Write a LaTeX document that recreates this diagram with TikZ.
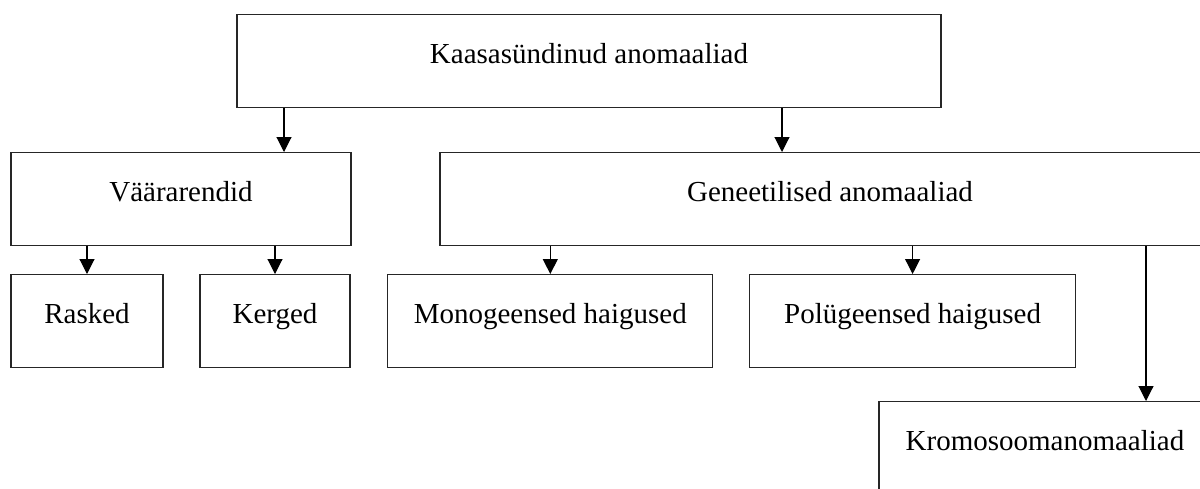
\documentclass[tikz,border=0pt]{standalone}
\usepackage{fontspec}
\setmainfont{Liberation Serif}
\usetikzlibrary{arrows.meta,positioning}

\begin{document}
\begin{tikzpicture}[
    x=1pt, y=-1pt,
    cat_box/.style={rectangle, draw=black!85, line width=1.3pt, fill=white, inner sep=0pt, text height=49pt, text depth=44pt, font=\fontsize{29}{34}\selectfont, anchor=north},
    arrow/.style={-{Triangle[length=15pt,width=15pt]}, line width=1.1pt, black}
]
\useasboundingbox (0,0) rectangle (1200,488);
\clip (0,0) rectangle (1200,488);

% Top level
\node[cat_box, minimum width=704pt] (kaasa) at (589,14) {Kaasasündinud anomaaliad};

% Second level
\node[cat_box, minimum width=340pt] (vaar) at (181,152) {Väärarendid};
\node[cat_box, minimum width=780pt] (gen) at (830,152) {Geneetilised anomaaliad};

% Third level
\node[cat_box, minimum width=152pt] (rasked) at (87,274) {Rasked};
\node[cat_box, minimum width=150pt, right=35.7pt of rasked] (kerged) {Kerged};
\node[cat_box, minimum width=325pt, right=36.5pt of kerged] (mono) {Monogeensed haigused};
\node[cat_box, minimum width=326pt, right=35.5pt of mono] (poly) {Polügeensed haigused};
\node[cat_box, minimum width=332pt] (kromo) at (1045,401) {Kromosoomanomaaliad};

% Connections
\draw[arrow] (kaasa.south -| 284,0) -- (vaar.north -| 284,0);
\draw[arrow] (kaasa.south -| 782,0) -- (gen.north -| 782,0);
\draw[arrow] (vaar.south -| rasked.north) -- (rasked.north);
\draw[arrow] (vaar.south -| kerged.north) -- (kerged.north);
\draw[arrow] (gen.south -| mono.north) -- (mono.north);
\draw[arrow] (gen.south -| poly.north) -- (poly.north);
\draw[arrow] (gen.south -| 1146,0) -- (kromo.north -| 1146,0);

\end{tikzpicture}
\end{document}
